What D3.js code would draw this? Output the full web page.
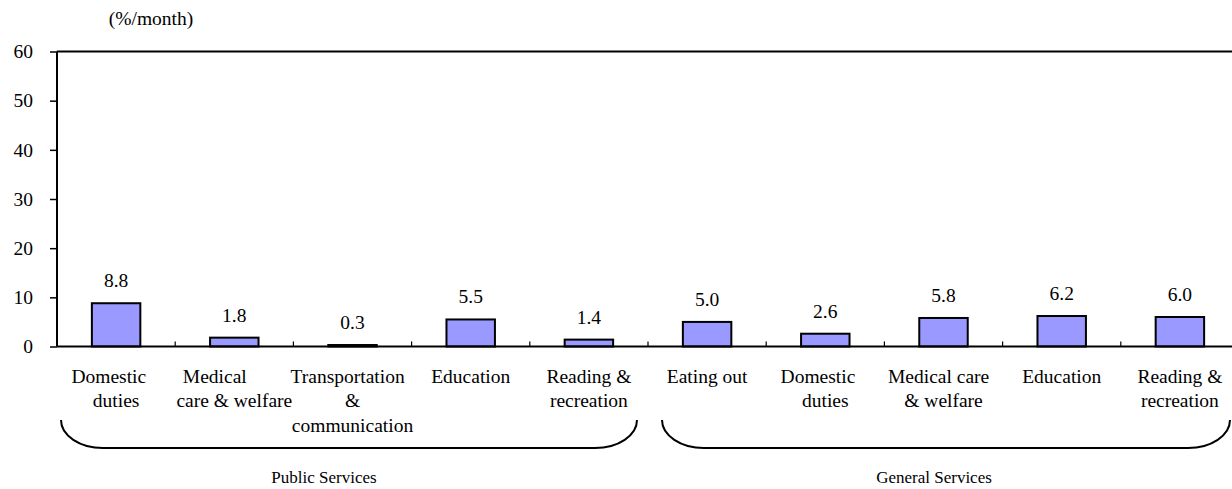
<!DOCTYPE html>
<html><head><meta charset="utf-8">
<script src="https://cdn.jsdelivr.net/npm/d3@7"></script>
<style>
html,body{margin:0;padding:0;background:#fff;}
svg text{font-family:"Liberation Serif","Times New Roman",serif;fill:#000;}
svg tspan{white-space:pre;}
</style></head>
<body><svg id="chart" width="1232" height="489"></svg>
<script>
// label lines as they wrap in the original (trailing spaces kept from the wrapped source text)
const categories = [
  ["Domestic   ","duties"],
  ["Medical        ","care & welfare"],
  ["Transportation  ","&","communication"],
  ["Education"],
  ["Reading &","recreation"],
  ["Eating out"],
  ["Domestic   ","duties"],
  ["Medical care  ","& welfare"],
  ["Education"],
  ["Reading &","recreation"]
];
const values = [8.8, 1.8, 0.3, 5.5, 1.4, 5.0, 2.6, 5.8, 6.2, 6.0];
const valueLabels = ["8.8","1.8","0.3","5.5","1.4","5.0","2.6","5.8","6.2","6.0"];
const yTicks = [0, 10, 20, 30, 40, 50, 60];
const groups = [
  {name: "Public Services", from: 0, to: 4},
  {name: "General Services", from: 5, to: 9}
];
const unitLabel = "(%/month)";

(function() {
const svg = d3.select("#chart");
const pl = 57, pr = 1239, pt = 51.5, pb = 346.5;
const idx = d3.range(values.length);
const x = d3.scaleBand().domain(idx).range([pl, pr]).padding(0);
const y = d3.scaleLinear().domain([0, 60]).range([pb, pt]);
const fs = 19.5;

svg.append("line").attr("x1", pl).attr("x2", pr).attr("y1", y(60)).attr("y2", y(60))
  .attr("stroke", "#000").attr("stroke-width", 2);
svg.append("line").attr("x1", pr).attr("x2", pr).attr("y1", y(60)).attr("y2", y(0))
  .attr("stroke", "#000").attr("stroke-width", 2);

const bw = x.step() * 0.41;
svg.append("g").selectAll("rect").data(values).join("rect")
  .attr("x", (d, i) => x(i) + x.step() / 2 - bw / 2)
  .attr("y", d => y(d))
  .attr("width", bw)
  .attr("height", d => y(0) - y(d))
  .attr("fill", "#9999FF").attr("stroke", "#000").attr("stroke-width", 2);

svg.append("g").selectAll("text").data(values).join("text")
  .attr("x", (d, i) => x(i) + x.step() / 2)
  .attr("y", d => y(d) - 16)
  .attr("text-anchor", "middle")
  .style("font-size", fs + "px")
  .text((d, i) => valueLabels[i]);

const yAxis = d3.axisLeft(y).tickValues(yTicks).tickSize(7).tickPadding(17).tickFormat(d3.format("d"));
const gy = svg.append("g").attr("transform", `translate(${pl},0)`).call(yAxis);
gy.select(".domain").attr("stroke-width", 2).attr("d", `M0,${y(60)}V${y(0)}`);
gy.selectAll(".tick line").attr("stroke-width", 1.5);
gy.selectAll(".tick text").style("font-size", fs + "px")
  .style("font-family", '"Liberation Serif","Times New Roman",serif');

svg.append("line").attr("x1", pl).attr("x2", pr).attr("y1", y(0)).attr("y2", y(0))
  .attr("stroke", "#000").attr("stroke-width", 2);
svg.append("g").selectAll("line").data(idx.slice(1)).join("line")
  .attr("x1", i => x(i)).attr("x2", i => x(i))
  .attr("y1", y(0)).attr("y2", y(0) - 5)
  .attr("stroke", "#000").attr("stroke-width", 1.2);

const cl = svg.append("g").selectAll("text").data(categories).join("text")
  .attr("text-anchor", "middle")
  .style("font-size", fs + "px");
cl.each(function(lines, i) {
  const t = d3.select(this);
  lines.forEach((ln, k) => {
    t.append("tspan").attr("x", x(i) + x.step() / 2).attr("y", 382.5 + k * 24.5).text(ln);
  });
});

svg.append("text").attr("x", 151).attr("y", 25).attr("text-anchor", "middle")
  .style("font-size", fs + "px").text(unitLabel);

// brace layout (per group): inset of brace ends from band edges, label shift from brace centre
const braceInsetL = [4, 14], braceInsetR = [11, 9], labelShift = [-25, -12];
const rx = 42, ry = 28, by0 = 420, by1 = 448;
groups.forEach((g, gi) => {
  const xa = x(g.from) + braceInsetL[gi];
  const xb = x(g.to) + x.step() - braceInsetR[gi];
  svg.append("path")
    .attr("d", `M${xa},${by0} A${rx},${ry} 0 0 0 ${xa + rx},${by1} L${xb - rx},${by1} A${rx},${ry} 0 0 0 ${xb},${by0}`)
    .attr("fill", "none").attr("stroke", "#000").attr("stroke-width", 2);
  svg.append("text").attr("x", (xa + xb) / 2 + labelShift[gi]).attr("y", 483)
    .attr("text-anchor", "middle").style("font-size", "17px").text(g.name);
});
})();
</script></body></html>
